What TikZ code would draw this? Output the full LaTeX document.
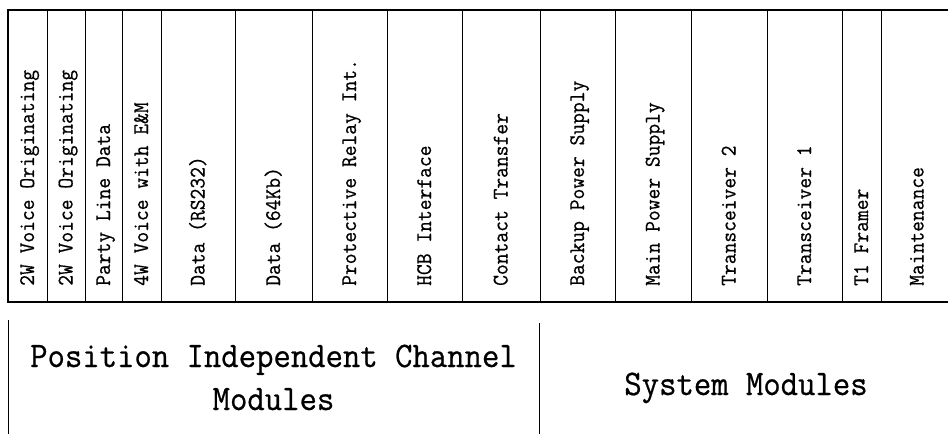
\documentclass[tikz,border=0pt]{standalone}
\usepackage{fontspec}
\setmainfont{Latin Modern Mono}[FakeStretch=0.94,FakeBold=0.6]
\begin{document}
\begin{tikzpicture}[x=1pt,y=-1pt,
  frame/.style={line width=1.3pt},
  sep/.style={line width=1pt},
  lbl/.style={rotate=90,anchor=base west,inner sep=0pt,font=\fontsize{22.3}{26}\selectfont},
  big/.style={inner sep=0pt,align=center,font=\fontsize{35.9}{43}\selectfont}]
\useasboundingbox (0,0) rectangle (948,434);
% table frame (open at the right)
\draw[frame] (948,10) -- (8,10) -- (8,302) -- (948,302);
\foreach \x in {47,85,122,161,235,312,387,462,540,615,691,767,842,881}
  \draw[sep] (\x,10) -- (\x,302);
% module labels
\foreach \i/\c/\t in {
  1/27.5/2W Voice Originating,
  2/66/2W Voice Originating,
  3/103.5/Party Line Data,
  4/141.5/4W Voice with E\&M,
  5/198/Data (RS232),
  6/273.5/Data (64Kb),
  7/349.5/Protective Relay Int.,
  8/424.5/HCB Interface,
  9/501/Contact Transfer,
  10/577.5/Backup Power Supply,
  11/653/Main Power Supply,
  12/729/Transceiver 2,
  13/804.5/Transceiver 1,
  14/861.5/T1 Framer,
  15/917/Maintenance}
  \node[lbl] (m\i) at (\c+6.5,286) {\t};
% group separators
\draw[sep] (8,320) -- (8,434);
\draw[sep] (539,323) -- (539,434);
% group labels
\node[big,anchor=base] (pic) at (273.5,410) {Position Independent Channel\\Modules};
\node[big,anchor=base] (sys) at (746,395) {System Modules};
\end{tikzpicture}
\end{document}
